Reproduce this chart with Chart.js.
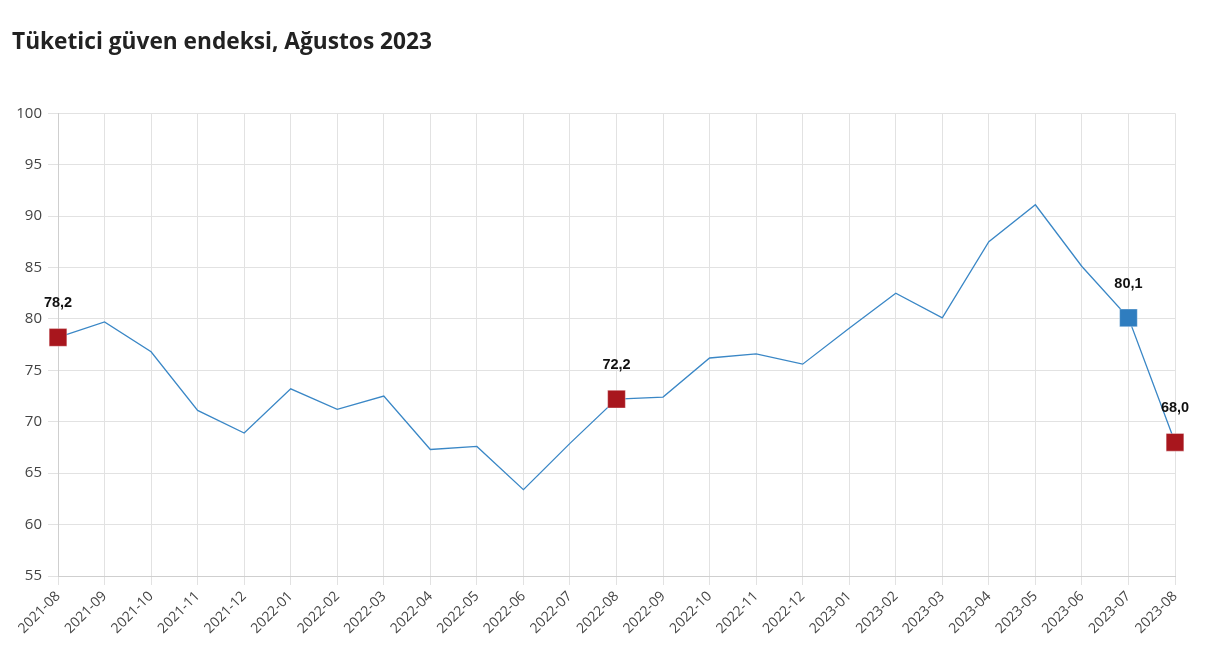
<!DOCTYPE html>
<html><head><meta charset="utf-8">
<script src="https://cdn.jsdelivr.net/npm/chart.js@4/dist/chart.umd.min.js"></script>
<style>html,body{margin:0;padding:0;background:#fff;}#wrap{width:1209px;height:664px;position:relative;}</style>
</head><body><div id="wrap"><canvas id="c" width="1209" height="664"></canvas></div>
<script>
const categories = ["2021-08","2021-09","2021-10","2021-11","2021-12","2022-01","2022-02","2022-03","2022-04","2022-05","2022-06","2022-07","2022-08","2022-09","2022-10","2022-11","2022-12","2023-01","2023-02","2023-03","2023-04","2023-05","2023-06","2023-07","2023-08"];
const values = [78.2,79.7,76.8,71.1,68.9,73.2,71.2,72.5,67.3,67.6,63.4,67.9,72.2,72.4,76.2,76.6,75.6,79.1,82.5,80.1,87.5,91.1,85.1,80.1,68.0];
const redMarkers = [0,12,24];
const blueMarkers = [23];
const yTicks = [55,60,65,70,75,80,85,90,95,100];
const titleText = "Tüketici güven endeksi, Ağustos 2023";

const RED = '#a8161d', BLUE = '#2f7dbf', LINE = '#3a87c6';
const ptColor = values.map((v,i)=> redMarkers.includes(i) ? RED : (blueMarkers.includes(i) ? BLUE : LINE));
const ptRadius = values.map((v,i)=> (redMarkers.includes(i)||blueMarkers.includes(i)) ? 12.5 : 0);
const labelled = redMarkers.concat(blueMarkers);

const labelPlugin = {
  id: 'valLabels',
  afterDatasetsDraw(chart){
    const ctx = chart.ctx;
    const meta = chart.getDatasetMeta(0);
    ctx.save();
    ctx.font = 'bold 14.5px "Liberation Sans", Arial, sans-serif';
    ctx.fillStyle = '#111';
    ctx.textAlign = 'center';
    ctx.textBaseline = 'middle';
    labelled.forEach(i=>{
      const p = meta.data[i];
      ctx.fillText(values[i].toFixed(1).replace('.',','), p.x, p.y - 34);
    });
    ctx.restore();
  }
};

new Chart(document.getElementById('c'), {
  type: 'line',
  data: { labels: categories, datasets: [{
    data: values, borderColor: LINE, borderWidth: 1.3, tension: 0,
    pointStyle: 'rect', pointRadius: ptRadius, pointHoverRadius: ptRadius,
    pointBackgroundColor: ptColor, pointBorderColor: 'rgba(255,255,255,0.35)', pointBorderWidth: 1
  }]},
  options: {
    responsive: false, animation: false,
    layout: { padding: { left: 12, right: 34, top: 0, bottom: 0 } },
    plugins: {
      legend: { display: false }, tooltip: { enabled: false },
      title: { display: true, text: titleText, align: 'start', color: '#222',
        font: { family: '"Open Sans", sans-serif', size: 22.7, weight: 'bold' },
        padding: { top: 29, bottom: 57 } }
    },
    scales: {
      x: {
        grid: { color: '#e2e2e2', tickLength: 9, drawOnChartArea: true },
        border: { color: '#cfcfcf' },
        ticks: { color: '#444', maxRotation: 45, minRotation: 45, autoSkip: false,
          font: { family: '"Open Sans", sans-serif', size: 14 } },
        afterFit(s){ s.height = 88; }
      },
      y: {
        min: 55, max: 100,
        afterBuildTicks(s){ s.ticks = yTicks.map(v=>({value:v})); },
        grid: { color: '#e2e2e2', tickLength: 10 },
        border: { color: '#cfcfcf' },
        ticks: { color: '#444', padding: 6, font: { family: '"Open Sans", sans-serif', size: 15 } },
        afterFit(s){ s.width = 46; }
      }
    }
  },
  plugins: [labelPlugin]
});
</script></body></html>
